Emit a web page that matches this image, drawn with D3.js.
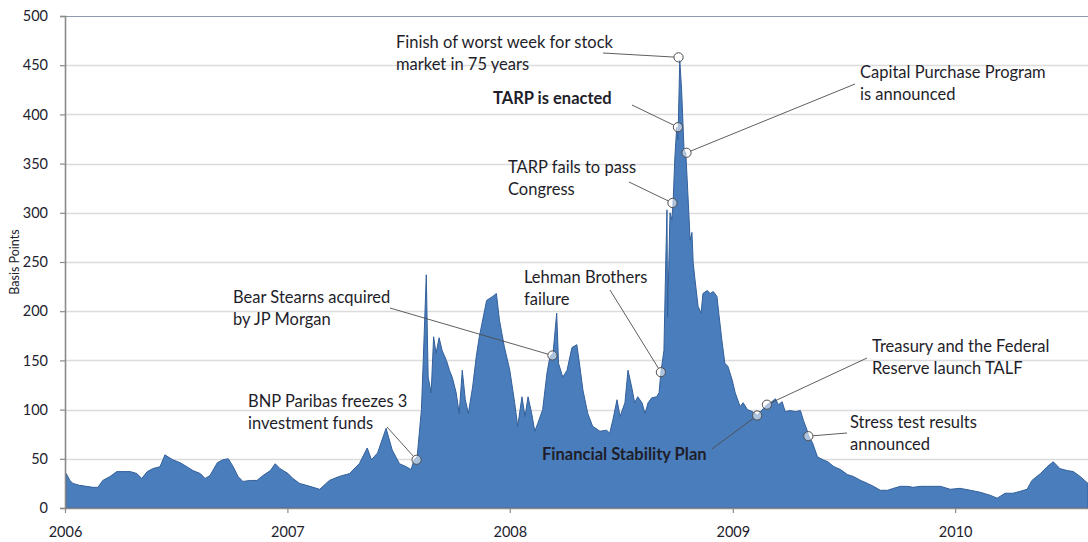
<!DOCTYPE html>
<html>
<head>
<meta charset="utf-8">
<script src="https://cdn.jsdelivr.net/npm/d3@7"></script>
<style>
  html, body { margin: 0; padding: 0; background: #ffffff; }
  svg { display: block; }
  text { font-family: Lato, "Open Sans", sans-serif; }
</style>
</head>
<body>
<svg id="chart" width="1088" height="542"></svg>
<script>
// ---------------- DATA ----------------
const dates = [
  "2006-01-03","2006-01-09","2006-01-14","2006-01-25","2006-02-05","2006-02-16","2006-02-24","2006-03-04",
  "2006-03-16","2006-03-27","2006-04-06","2006-04-18","2006-04-29","2006-05-07","2006-05-16","2006-05-25",
  "2006-06-06","2006-06-14","2006-06-19","2006-06-27","2006-07-09","2006-07-20","2006-07-30","2006-08-11",
  "2006-08-19","2006-08-27","2006-09-08","2006-09-17","2006-09-26","2006-10-04","2006-10-12","2006-10-20",
  "2006-11-01","2006-11-12","2006-11-22","2006-12-04","2006-12-12","2006-12-20","2007-01-02","2007-01-10",
  "2007-01-21","2007-02-07","2007-02-23","2007-03-11","2007-03-27","2007-04-13","2007-04-29","2007-05-12",
  "2007-05-19","2007-05-29","2007-06-12","2007-06-22","2007-07-04","2007-07-15","2007-07-23","2007-07-28",
  "2007-08-02","2007-08-09","2007-08-12","2007-08-17","2007-08-20","2007-08-25","2007-08-29","2007-09-02",
  "2007-09-07","2007-09-12","2007-09-19","2007-09-24","2007-09-29","2007-10-05","2007-10-10","2007-10-15",
  "2007-10-20","2007-10-25","2007-11-01","2007-11-07","2007-11-12","2007-11-24","2007-12-04","2007-12-10",
  "2007-12-15","2007-12-23","2008-01-01","2008-01-09","2008-01-14","2008-01-21","2008-01-26","2008-01-31",
  "2008-02-06","2008-02-11","2008-02-16","2008-02-24","2008-03-02","2008-03-07","2008-03-12","2008-03-18",
  "2008-03-21","2008-03-28","2008-04-04","2008-04-12","2008-04-20","2008-04-25","2008-04-30","2008-05-08",
  "2008-05-16","2008-05-28","2008-06-08","2008-06-13","2008-06-18","2008-06-25","2008-06-30","2008-07-08",
  "2008-07-13","2008-07-19","2008-07-24","2008-07-29","2008-08-05","2008-08-10","2008-08-15","2008-08-21",
  "2008-08-29","2008-09-02","2008-09-05","2008-09-10","2008-09-13","2008-09-15","2008-09-16","2008-09-20",
  "2008-09-23","2008-09-25","2008-09-28","2008-10-01","2008-10-03","2008-10-06","2008-10-09","2008-10-13",
  "2008-10-16","2008-10-19","2008-10-23","2008-10-26","2008-10-28","2008-10-31","2008-11-05","2008-11-10",
  "2008-11-13","2008-11-20","2008-11-25","2008-11-30","2008-12-06","2008-12-09","2008-12-14","2008-12-19",
  "2008-12-24","2008-12-31","2009-01-05","2009-01-13","2009-01-18","2009-01-25","2009-02-02","2009-02-07",
  "2009-02-10","2009-02-20","2009-02-26","2009-03-04","2009-03-12","2009-03-17","2009-03-23","2009-03-28",
  "2009-04-05","2009-04-14","2009-04-22","2009-04-27","2009-05-03","2009-05-05","2009-05-12","2009-05-20",
  "2009-05-29","2009-06-06","2009-06-16","2009-06-27","2009-07-08","2009-07-18","2009-07-30","2009-08-10",
  "2009-08-20","2009-08-31","2009-09-12","2009-09-22","2009-10-03","2009-10-15","2009-10-24","2009-11-05",
  "2009-11-16","2009-11-26","2009-12-08","2009-12-24","2010-01-09","2010-01-26","2010-02-11","2010-02-27",
  "2010-03-11","2010-03-24","2010-04-06","2010-04-18","2010-04-29","2010-05-07","2010-05-21","2010-06-01",
  "2010-06-11","2010-06-22","2010-07-04","2010-07-14","2010-07-25","2010-08-07"
];
const spread = [
  35, 28, 25, 23, 22, 21, 21, 28,
  32, 37, 37, 37, 35, 30, 37, 40,
  42, 54, 52, 49, 46, 42, 38, 35,
  30, 33, 46, 49, 50, 42, 32, 27,
  28, 28, 33, 38, 45, 40, 35, 30,
  25, 22, 19, 28, 32, 35, 45, 61,
  49, 56, 81, 59, 45, 42, 39, 49,
  52, 100, 150, 237, 133, 117, 174, 157,
  173, 160, 150, 140, 132, 117, 96, 140,
  110, 96, 123, 154, 174, 211, 215, 218,
  191, 164, 140, 107, 83, 113, 93, 113,
  96, 78, 86, 100, 137, 154, 157, 198,
  147, 133, 140, 163, 166, 144, 120, 96,
  83, 78, 79, 76, 89, 110, 93, 107,
  140, 123, 107, 113, 107, 96, 107, 112,
  113, 117, 138, 160, 250, 303, 194, 300,
  293, 310, 357, 387, 374, 455, 425, 364,
  360, 323, 272, 280, 249, 232, 205, 198,
  218, 221, 218, 220, 215, 198, 171, 147,
  144, 130, 117, 103, 107, 100, 98, 96,
  94, 101, 105, 107, 111, 105, 108, 98,
  99, 98, 99, 89, 79, 74, 66, 52,
  49, 47, 42, 39, 34, 32, 28, 25,
  22, 18, 18, 20, 22, 22, 21, 22,
  22, 22, 22, 19, 20, 18, 16, 13,
  10, 15, 15, 17, 19, 28, 35, 42,
  47, 40, 38, 37, 32, 25
];
const yTicks = [0, 50, 100, 150, 200, 250, 300, 350, 400, 450, 500];
const xTickLabels = ["2006", "2007", "2008", "2009", "2010"];
const yTitle = "Basis Points";

// annotated events: text lines, date & value of marked point, bold flag
const eventLines = [
  ["Finish of worst week for stock", "market in 75 years"],
  ["TARP is enacted"],
  ["Capital Purchase Program", "is announced"],
  ["TARP fails to pass", "Congress"],
  ["Lehman Brothers", "failure"],
  ["Bear Stearns acquired", "by JP Morgan"],
  ["BNP Paribas freezes 3", "investment funds"],
  ["Financial Stability Plan"],
  ["Treasury and the Federal", "Reserve launch TALF"],
  ["Stress test results", "announced"]
];
const eventDates = ["2008-10-04","2008-10-03","2008-10-17","2008-09-24","2008-09-05",
                    "2008-03-11","2007-08-01","2009-02-10","2009-02-26","2009-05-05"];
const eventValues = [458, 387, 361, 310, 138, 155, 49, 94, 105, 73];
const eventBold = [false, true, false, false, false, false, false, true, false, false];

// ---------------- LAYOUT (pixels) ----------------
const labelPos = [ // text left x, first baseline y, leader start x, y
  [396, 48, 603, 53],
  [493, 104, 632, 105],
  [860, 78, 855, 84],
  [508, 173, 629, 182],
  [524, 283, 610, 290],
  [233, 303, 390, 308],
  [248, 407, 387, 427],
  [542, 460, 712, 449],
  [872, 352, 867, 358],
  [850, 428, 847, 433]
];
const margin = {left: 65, right: 1088, top: 16, bottom: 508};

// ---------------- CHART ----------------
const parse = d3.timeParse("%Y-%m-%d");
const series = dates.map((d, i) => ({date: parse(d), value: spread[i]}));

const svg = d3.select("#chart");
const x = d3.scaleTime()
  .domain([parse("2006-01-01"), parse("2010-08-07")])
  .range([margin.left, margin.right]);
const y = d3.scaleLinear().domain([0, 500]).range([margin.bottom, margin.top]);

// gridlines
svg.append("g").selectAll("line").data(yTicks.filter(t => t > 0)).join("line")
  .attr("x1", margin.left).attr("x2", margin.right)
  .attr("y1", d => Math.round(y(d)) + 0.5).attr("y2", d => Math.round(y(d)) + 0.5)
  .attr("stroke", d => d === 500 ? "#8d9bb0" : "#dcdcdc")
  .attr("stroke-width", d => d === 500 ? 1.2 : 1.3);

// area
const area = d3.area().x(d => x(d.date)).y0(y(0)).y1(d => y(d.value));
svg.append("path").datum(series)
  .attr("d", area)
  .attr("fill", "#4a7dbc")
  .attr("stroke", "#33609b")
  .attr("stroke-width", 1)
  .attr("stroke-linejoin", "round");

// y axis
const yAxis = d3.axisLeft(y).tickValues(yTicks).tickSize(5).tickPadding(12);
const gy = svg.append("g").attr("transform", `translate(${margin.left},0)`).call(yAxis);
gy.select(".domain").attr("stroke", "#8a8a8a").attr("stroke-width", 1.6);
gy.selectAll(".tick line").attr("stroke", "#8a8a8a").attr("stroke-width", 1.2);
gy.selectAll(".tick text").attr("font-size", 14.5).attr("fill", "#22222e")
  .attr("font-family", "Lato, 'Open Sans', sans-serif");

// x axis
const yearDates = xTickLabels.map(s => parse(s + "-01-01"));
const xAxis = d3.axisBottom(x).tickValues(yearDates).tickFormat(d3.timeFormat("%Y"))
  .tickSize(5).tickPadding(14).tickSizeOuter(0);
const gx = svg.append("g").attr("transform", `translate(0,${margin.bottom})`).call(xAxis);
gx.select(".domain").attr("stroke", "#8a8a8a").attr("stroke-width", 1.6);
gx.selectAll(".tick line").attr("stroke", "#8a8a8a").attr("stroke-width", 1.2);
gx.selectAll(".tick text").attr("font-size", 14.5).attr("fill", "#22222e")
  .attr("font-family", "Lato, 'Open Sans', sans-serif");

// y title
svg.append("text")
  .attr("transform", `translate(19,262) rotate(-90)`)
  .attr("text-anchor", "middle")
  .attr("font-size", 12.5)
  .attr("fill", "#22222e")
  .text(yTitle);

// annotations
const r = 4.6;
eventLines.forEach((lines, i) => {
  const [tx, ty, lx, ly] = labelPos[i];
  const cx = x(parse(eventDates[i])), cy = y(eventValues[i]);
  const dx = cx - lx, dy = cy - ly, len = Math.hypot(dx, dy);
  svg.append("line")
    .attr("x1", lx).attr("y1", ly)
    .attr("x2", cx - dx / len * r).attr("y2", cy - dy / len * r)
    .attr("stroke", "#4d4d4d").attr("stroke-width", 0.9);
  svg.append("circle")
    .attr("cx", cx).attr("cy", cy).attr("r", r)
    .attr("fill", "#ffffff").attr("fill-opacity", 0.55)
    .attr("stroke", "#4d4d4d").attr("stroke-width", 1);
  const t = svg.append("text")
    .attr("x", tx).attr("y", ty)
    .attr("font-size", 16.5)
    .attr("font-weight", eventBold[i] ? "bold" : "normal")
    .attr("fill", "#1e1e2a");
  lines.forEach((ln, j) => {
    t.append("tspan").attr("x", tx).attr("y", ty + j * 22).text(ln);
  });
});
</script>
</body>
</html>
